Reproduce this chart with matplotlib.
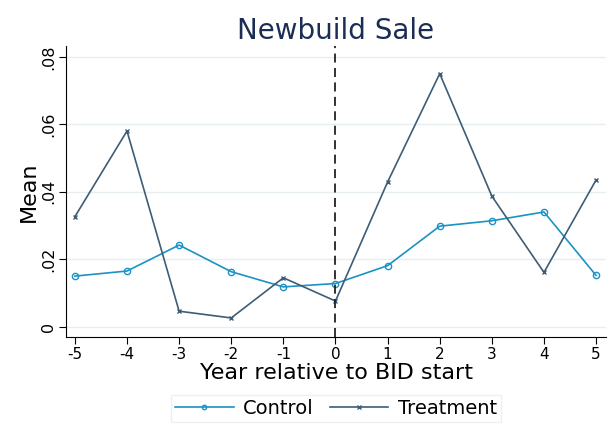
import numpy as np
import matplotlib.pyplot as plt

years = [-5, -4, -3, -2, -1, 0, 1, 2, 3, 4, 5]
control = [0.0150, 0.0165, 0.0242, 0.0163, 0.0118, 0.0128, 0.0181, 0.0298, 0.0314, 0.0340, 0.0152]
treatment = [0.0326, 0.0580, 0.0046, 0.0026, 0.0145, 0.0076, 0.0429, 0.0750, 0.0387, 0.0161, 0.0435]
yticks = [0, 0.02, 0.04, 0.06, 0.08]
ytick_labels = ['0', '.02', '.04', '.06', '.08']

c_ctrl = '#1a93c4'
c_treat = '#3d5d76'

fig = plt.figure(figsize=(6.09, 4.25), dpi=100)
ax = fig.add_axes([66/609, 1 - 337/425, 540/609, 291/425])

for y in yticks:
    ax.axhline(y, color='#e6eef1', linewidth=1.0, zorder=0)

ax.plot(years, control, color=c_ctrl, linewidth=1.2, marker='o', markersize=4.5,
        markerfacecolor='none', markeredgewidth=1.0, label='Control')
ax.plot(years, treatment, color=c_treat, linewidth=1.2, marker='x', markersize=3.5,
        markeredgewidth=1.0, label='Treatment')
ax.axvline(0, color='#222222', linewidth=1.3, linestyle=(0, (5, 3)))

ax.set_xlim(-5.17, 5.19)
ax.set_ylim(-0.00305, 0.0832)
ax.set_xticks(years)
ax.set_xticklabels([str(v) for v in years], fontsize=11)
ax.set_yticks(yticks)
ax.set_yticklabels(ytick_labels, fontsize=11.5, rotation=90, va='center')
ax.spines['top'].set_visible(False)
ax.spines['right'].set_visible(False)
ax.tick_params(direction='out', length=5, width=0.8, pad=2)

ax.set_xlabel('Year relative to BID start', fontsize=16, labelpad=1)
ax.set_ylabel('Mean', fontsize=16, labelpad=2)
ax.set_title('Newbuild Sale', fontsize=20, color='#1c2d55', pad=5)

leg = ax.legend(loc='upper center', bbox_to_anchor=(0.5, -0.199), ncol=2, fontsize=14,
                frameon=True, fancybox=False, edgecolor='#e6eef1', handlelength=3.0,
                columnspacing=0.8, borderpad=0.2, borderaxespad=0, markerscale=0.7,
                handletextpad=0.5)

fig.savefig('out.png', dpi=100)
